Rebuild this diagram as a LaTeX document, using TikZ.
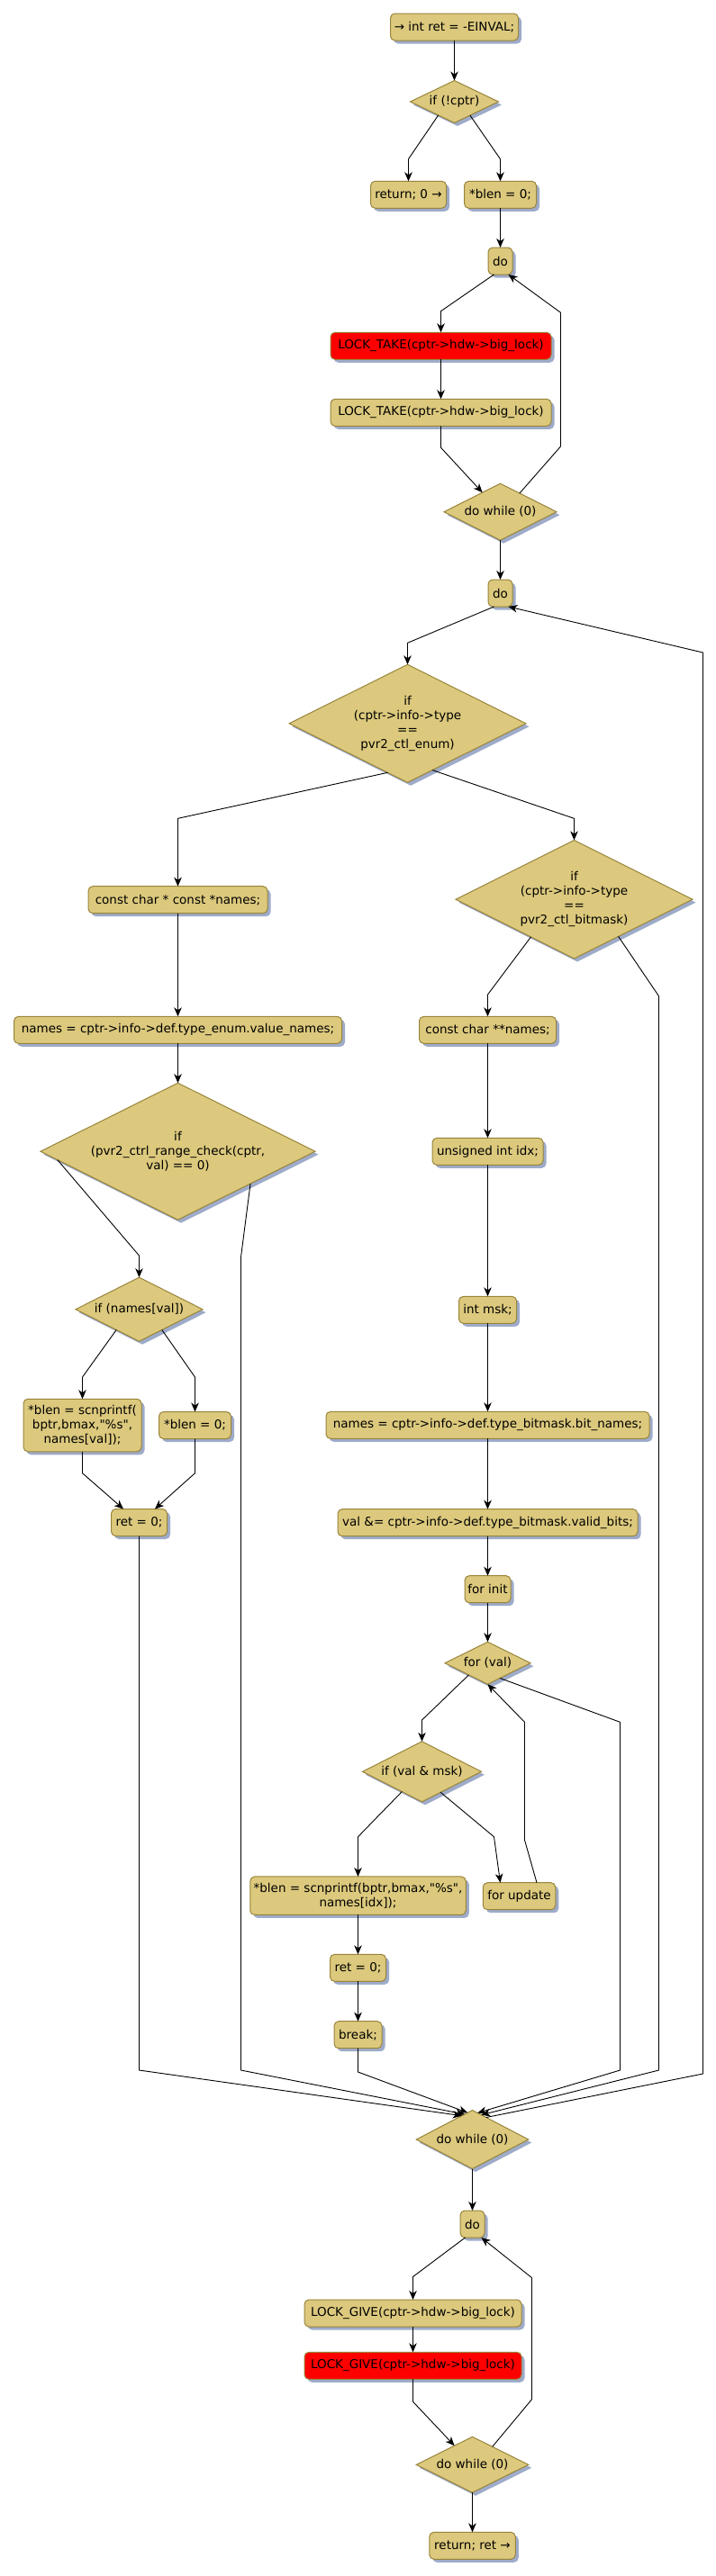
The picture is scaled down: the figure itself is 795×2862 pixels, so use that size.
\documentclass[tikz,border=0pt]{standalone}
\usepackage{fontspec}
\setmainfont{DejaVu Sans}[Ligatures=TeXOff]
\usetikzlibrary{shapes.geometric,shadows,arrows.meta}
\definecolor{boxfill}{RGB}{220,201,125}
\definecolor{boxdraw}{RGB}{152,132,58}
\definecolor{shadowc}{RGB}{158,171,201}
\tikzset{
  base/.style={draw=boxdraw, line width=1pt, fill=boxfill,
    font=\fontsize{13.5}{16}\selectfont, align=center, text=black, outer sep=0pt,
    drop shadow={shadow xshift=3.5pt, shadow yshift=-3.5pt, fill=shadowc, opacity=1}},
  act/.style={base, rectangle, rounded corners=5pt, inner xsep=2pt, inner ysep=0pt, minimum height=30pt},
  redact/.style={act, fill=red},
  cond/.style={base, diamond, inner sep=0pt, shape aspect=2},
  arr/.style={line width=0.9pt, -{Stealth[length=10pt,width=8.5pt,inset=3pt]}},
}
\begin{document}
\begin{tikzpicture}[x=1pt,y=-1pt]
\useasboundingbox (0,0) rectangle (795,2862);
% top part
\node[act, minimum width=142pt] (start) at (504.5,30) {→ int ret = -EINVAL;};
\node[cond, minimum width=98pt, minimum height=47pt] (dcptr) at (504.5,113) {if (!cptr)};
\node[act, minimum width=84pt] (ret0) at (453.5,216.3) {return; 0 →};
\node[act, minimum width=80pt] (blen0) at (555.5,216.3) {*blen = 0;};
\node[act, minimum width=27pt] (do1) at (555.5,290) {do};
\node[redact, minimum width=245pt] (ltred) at (489.5,384.3) {LOCK\_TAKE(cptr->hdw->big\_lock)};
\node[act, minimum width=245pt] (lt) at (489.5,458.3) {LOCK\_TAKE(cptr->hdw->big\_lock)};
\node[cond, minimum width=125pt, minimum height=63pt] (dw1) at (555.5,568.7) {do while (0)};
\node[act, minimum width=27pt] (do2) at (555.5,659) {do};
\node[cond, minimum width=263pt, minimum height=131pt] (denum) at (452.5,803.8) {if\\(cptr->info->type\\==\\pvr2\_ctl\_enum)};
% enum branch
\node[act, minimum width=199pt] (cn1) at (197.5,999.7) {const char * const *names;};
\node[act, minimum width=364pt] (nm1) at (197.5,1144.3) {names = cptr->info->def.type\_enum.value\_names;};
\node[cond, minimum width=305pt, minimum height=152pt] (drange) at (197.5,1279.2) {if\\(pvr2\_ctrl\_range\_check(cptr,\\val) == 0)};
\node[cond, minimum width=141pt, minimum height=71pt] (dnames) at (154.5,1454.7) {if (names[val])};
\node[act, minimum width=131pt, minimum height=58.5pt] (blens1) at (91.5,1583.5) {*blen = scnprintf(\\bptr,bmax,"\%s",\\names[val]);};
\node[act, minimum width=80pt] (blen0b) at (216.5,1583.5) {*blen = 0;};
\node[act, minimum width=62pt] (ret0a) at (154.5,1691.5) {ret = 0;};
% bitmask branch
\node[cond, minimum width=263pt, minimum height=131.5pt] (dbit) at (637.5,999.2) {if\\(cptr->info->type\\==\\pvr2\_ctl\_bitmask)};
\node[act, minimum width=152pt] (cn2) at (541.5,1144.3) {const char **names;};
\node[act, minimum width=123pt] (uidx) at (541.5,1279.3) {unsigned int idx;};
\node[act, minimum width=64pt] (msk) at (541.5,1455.3) {int msk;};
\node[act, minimum width=359pt] (nm2) at (541.5,1583.3) {names = cptr->info->def.type\_bitmask.bit\_names;};
\node[act, minimum width=333pt] (valb) at (541.5,1691.7) {val \&= cptr->info->def.type\_bitmask.valid\_bits;};
\node[act, minimum width=51pt] (finit) at (541.5,1765.7) {for init};
\node[cond, minimum width=95pt, minimum height=47pt] (dfor) at (541.5,1847.7) {for (val)};
\node[cond, minimum width=132pt, minimum height=67pt] (dmsk) at (468.5,1968.3) {if (val \& msk)};
\node[act, minimum width=239.5pt, minimum height=42.5pt] (blens2) at (397.5,2106.2) {*blen = scnprintf(bptr,bmax,"\%s",\\names[idx]);};
\node[act, minimum width=80.5pt] (fupd) at (576.5,2106.7) {for update};
\node[act, minimum width=62pt] (ret0b) at (397.5,2186.3) {ret = 0;};
\node[act, minimum width=53pt] (brk) at (397.5,2260.7) {break;};
% bottom part
\node[cond, minimum width=124.5pt, minimum height=65pt] (dw2) at (524.5,2377) {do while (0)};
\node[act, minimum width=27pt] (do3) at (524.5,2471) {do};
\node[act, minimum width=241pt] (lg) at (458.5,2570) {LOCK\_GIVE(cptr->hdw->big\_lock)};
\node[redact, minimum width=241pt] (lgred) at (458.5,2628.3) {LOCK\_GIVE(cptr->hdw->big\_lock)};
\node[cond, minimum width=124.5pt, minimum height=62pt] (dw3) at (524.5,2738.3) {do while (0)};
\node[act, minimum width=95.5pt] (retret) at (524.5,2828.3) {return; ret →};

% connectors: top
\draw[arr] (start) -- (dcptr);
\draw[arr] (dcptr.220.9) -- (453.5,176.7) -- (ret0.north);
\draw[arr] (dcptr.319.3) -- (555.5,176.7) -- (blen0.north);
\draw[arr] (blen0) -- (do1);
\draw[arr] ([xshift=-7pt]do1.south) -- (489.5,345.7) -- (ltred.north);
\draw[arr] (ltred) -- (lt);
\draw[arr] (lt.south) -- (489.5,497.3) -- (dw1);
\draw[arr] (dw1.44.3) -- (622.5,496) -- (622.5,347.3) -- ([xshift=9pt]do1.south);
\draw[arr] (dw1) -- (do2);
\draw[arr] ([xshift=-7pt]do2.south) -- (452.5,714.3) -- (denum.north);
% enum branch
\draw[arr] (denum.248.4) -- (197.5,909.3) -- (cn1.north);
\draw[arr] (cn1) -- (nm1);
\draw[arr] (nm1) -- (drange);
\draw[arr] (drange.184.7) -- (154.5,1395) -- (dnames.north);
\draw[arr] (dnames.222) -- (91.5,1530) -- (blens1.north);
\draw[arr] (dnames.318) -- (216.5,1530) -- (blen0b.north);
\draw[arr] (blens1.south) -- (91.5,1636.7) -- ([xshift=-17.5pt]ret0a.north);
\draw[arr] (blen0b.south) -- (216.5,1636.7) -- ([xshift=17.5pt]ret0a.north);
% bitmask branch
\draw[arr] (denum.298.2) -- (637.5,909.3) -- (dbit.north);
\draw[arr] (dbit.221.7) -- (541.5,1105) -- (cn2.north);
\draw[arr] (cn2) -- (uidx);
\draw[arr] (uidx) -- (msk);
\draw[arr] (msk) -- (nm2);
\draw[arr] (nm2) -- (valb);
\draw[arr] (valb) -- (finit);
\draw[arr] (finit) -- (dfor);
\draw[arr] (dfor.212) -- (468.5,1911) -- (dmsk.north);
\draw[arr] (dmsk.225.5) -- (397.5,2040.7) -- (blens2.north);
\draw[arr] (dmsk.312.8) -- (548.5,2040.7) -- ([xshift=-21pt]fupd.north);
\draw[arr] ([xshift=19.5pt]fupd.north) -- (582.5,2044.3) -- (582.5,1913.3) -- (dfor.south);
\draw[arr] (blens2) -- (ret0b);
\draw[arr] (ret0b) -- (brk);
% merges into dw2
\draw[arr] (ret0a.south) -- (154.5,2300) -- (dw2.114);
\draw[arr] (drange.336.3) -- (267.5,1396.7) -- (267.5,2300) -- (dw2.107);
\draw[arr] (brk.south) -- (397.5,2302) -- (dw2.100);
\draw[arr] (dfor.309.1) -- (688.5,1913.3) -- (688.5,2300) -- (dw2.79);
\draw[arr] (dbit.320.6) -- (731.5,1106.7) -- (731.5,2300) -- (dw2.70);
\draw[arr] (dw2.58) -- (780.5,2304) -- (780.5,725) -- ([xshift=9pt]do2.south);
% bottom
\draw[arr] (dw2) -- (do3);
\draw[arr] ([xshift=-8pt]do3.south) -- (458.5,2529.5) -- (lg.north);
\draw[arr] (lg) -- (lgred);
\draw[arr] (lgred.south) -- (458.5,2668.3) -- (dw3);
\draw[arr] (dw3.42) -- (590.5,2665.7) -- (590.5,2530.6) -- ([xshift=10pt]do3.south);
\draw[arr] (dw3) -- (retret);
\end{tikzpicture}
\end{document}
